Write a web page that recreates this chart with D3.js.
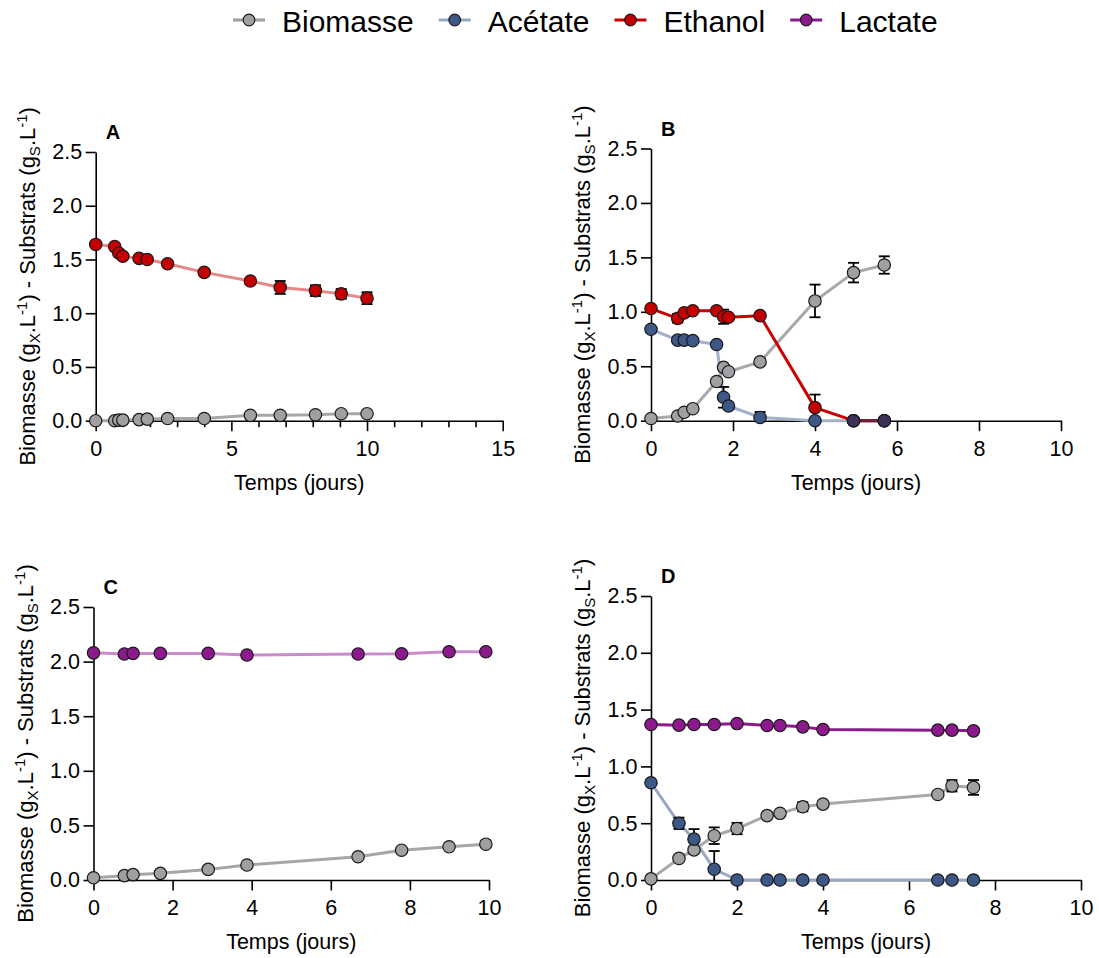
<!DOCTYPE html>
<html><head><meta charset="utf-8">
<script src="https://cdn.jsdelivr.net/npm/d3@7"></script>
<style>
body{margin:0;background:#fff}
svg{display:block}
text{font-family:"Liberation Sans",Arial,Helvetica,sans-serif;fill:#000}
</style>
</head><body>
<svg id="chart" width="1099" height="958"></svg>
<script>
// ---------------- DATA ----------------
const seriesNames = ["Biomasse", "Acétate", "Ethanol", "Lactate"];

// Panel A
const timeA = [0, 0.7, 0.85, 1.0, 1.6, 1.9, 2.65, 4.0, 5.7, 6.8, 8.1, 9.05, 10.0];
const biomasseA = [0.0, 0.0, 0.005, 0.005, 0.01, 0.015, 0.02, 0.02, 0.05, 0.05, 0.055, 0.065, 0.065];
const ethanolA = [1.64, 1.62, 1.56, 1.53, 1.51, 1.50, 1.46, 1.38, 1.30, 1.24, 1.21, 1.18, 1.14];
const ethanolA_sd = [0, 0, 0, 0, 0, 0, 0, 0, 0, 0.06, 0.05, 0.045, 0.055];

// Panel B
const timeB = [0, 0.65, 0.81, 1.02, 1.6, 1.77, 1.89, 2.66, 4.0, 4.94, 5.69];
const biomasseB = [0.02, 0.043, 0.077, 0.11, 0.36, 0.49, 0.45, 0.54, 1.10, 1.36, 1.43];
const biomasseB_sd = [0, 0, 0, 0, 0, 0, 0, 0, 0.15, 0.09, 0.08];
const acetateB = [0.84, 0.74, 0.74, 0.735, 0.70, 0.215, 0.135, 0.03, 0.0, 0.0, 0.0];
const acetateB_sd = [0, 0, 0, 0, 0, 0.095, 0, 0.05, 0, 0, 0];
const ethanolB = [1.03, 0.94, 0.99, 1.01, 1.01, 0.955, 0.95, 0.965, 0.12, 0.0, 0.0];
const ethanolB_sd = [0, 0.04, 0, 0, 0, 0.065, 0, 0, 0.12, 0, 0];
const timeB_lact = [4.94, 5.69];
const lactateB = [0.0, 0.0];

// Panel C
const timeC = [0, 0.78, 1.0, 1.69, 2.9, 3.88, 6.69, 7.79, 8.99, 9.92];
const biomasseC = [0.02, 0.04, 0.049, 0.061, 0.097, 0.137, 0.213, 0.273, 0.304, 0.328];
const lactateC = [2.08, 2.07, 2.075, 2.075, 2.075, 2.06, 2.07, 2.072, 2.09, 2.09];

// Panel D
const timeD = [0, 0.65, 1.0, 1.47, 2.0, 2.7, 3.0, 3.53, 4.0, 6.67, 7.0, 7.5];
const biomasseD = [0.01, 0.19, 0.265, 0.39, 0.453, 0.567, 0.587, 0.645, 0.668, 0.753, 0.829, 0.815];
const biomasseD_sd = [0, 0, 0, 0.073, 0.05, 0, 0, 0.04, 0, 0, 0.05, 0.065];
const acetateD = [0.856, 0.499, 0.36, 0.095, 0, 0, 0, 0, 0, 0, 0, 0];
const acetateD_sd = [0, 0.05, 0.088, 0.16, 0, 0, 0, 0, 0, 0, 0, 0];
const lactateD = [1.369, 1.363, 1.369, 1.369, 1.377, 1.36, 1.36, 1.348, 1.325, 1.319, 1.319, 1.313];

const yTicks = [0, 0.5, 1.0, 1.5, 2.0, 2.5];
const xTicksA = [0, 5, 10, 15];
const xTicksBCD = [0, 2, 4, 6, 8, 10];
const panelLetters = ["A", "B", "C", "D"];
const xTitle = "Temps (jours)";

// ---------------- STYLE ----------------
const fills = {"Biomasse": "#a0a0a2", "Acétate": "#3d5787", "Ethanol": "#c40000", "Lactate": "#8c1a8c"};
const legendLines = {"Biomasse": "#a3a3a5", "Acétate": "#97a8c2", "Ethanol": "#cc0000", "Lactate": "#8c1a8c"};
const FONT = 21.5;
const YFONT = 22;
const SUBFONT = 15;

function mk(times, vals, sds) {
  return times.map((t, i) => ({t: t, v: vals[i], sd: sds ? sds[i] : 0}));
}

const panels = [
  {letter: panelLetters[0], x0: 95.7, x1: 502.7, yb: 420.7, yt: 152, xmax: 15, xticks: xTicksA, minor: true,
   series: [
     {name: "Biomasse", data: mk(timeA, biomasseA), line: "#a6a6a8"},
     {name: "Ethanol", data: mk(timeA, ethanolA, ethanolA_sd), line: "#e68888"}
   ]},
  {letter: panelLetters[1], x0: 651, x1: 1061, yb: 420.7, yt: 148.5, xmax: 10, xticks: xTicksBCD, minor: false,
   series: [
     {name: "Biomasse", data: mk(timeB, biomasseB, biomasseB_sd), line: "#a8a8aa"},
     {name: "Acétate", data: mk(timeB, acetateB, acetateB_sd), line: "#a2b1c8"},
     {name: "Ethanol", data: mk(timeB, ethanolB, ethanolB_sd), line: "#cc0000"},
     {name: "Lactate", data: mk(timeB_lact, lactateB), line: "#6e1f3f", fill: "#3b3159"}
   ]},
  {letter: panelLetters[2], x0: 93.5, x1: 489, yb: 880, yt: 607, xmax: 10, xticks: xTicksBCD, minor: false,
   series: [
     {name: "Biomasse", data: mk(timeC, biomasseC), line: "#a6a6a8"},
     {name: "Lactate", data: mk(timeC, lactateC), line: "#c98bc9"}
   ]},
  {letter: panelLetters[3], x0: 651, x1: 1081, yb: 880, yt: 596, xmax: 10, xticks: xTicksBCD, minor: false,
   series: [
     {name: "Biomasse", data: mk(timeD, biomasseD, biomasseD_sd), line: "#a8a8aa"},
     {name: "Acétate", data: mk(timeD, acetateD, acetateD_sd), line: "#98a9c3"},
     {name: "Lactate", data: mk(timeD, lactateD), line: "#8c1a8c"}
   ]}
];

const svg = d3.select("#chart");

// ---------------- LEGEND ----------------
const leg = svg.append("g").attr("class", "legend");
let lx = 233;
seriesNames.forEach(name => {
  const g = leg.append("g");
  g.append("line").attr("x1", lx).attr("x2", lx + 32).attr("y1", 20).attr("y2", 20)
    .attr("stroke", legendLines[name]).attr("stroke-width", 3.2);
  g.append("circle").attr("cx", lx + 16).attr("cy", 20).attr("r", 5.8)
    .attr("fill", fills[name]).attr("stroke", "#1a1a1a").attr("stroke-width", 1.2);
  const t = g.append("text").attr("x", lx + 49).attr("y", 31.5).attr("font-size", 30).text(name);
  lx = lx + 49 + t.node().getComputedTextLength() + 25;
});

// ---------------- PANELS ----------------
panels.forEach(p => {
  const x = d3.scaleLinear().domain([0, p.xmax]).range([p.x0, p.x1]);
  const y = d3.scaleLinear().domain([0, 2.5]).range([p.yb, p.yt]);
  const g = svg.append("g").attr("class", "panel-" + p.letter);

  // minor ticks
  if (p.minor) {
    const minorVals = d3.range(0, p.xmax + 1).filter(v => !p.xticks.includes(v));
    g.append("g").attr("transform", `translate(0,${p.yb})`)
      .call(d3.axisBottom(x).tickValues(minorVals).tickSize(6.5).tickSizeOuter(0).tickFormat(""))
      .call(a => a.select(".domain").remove())
      .call(a => a.selectAll("line").attr("stroke", "#000").attr("stroke-width", 1.6));
  }

  // x axis
  g.append("g").attr("transform", `translate(0,${p.yb})`)
    .call(d3.axisBottom(x).tickValues(p.xticks).tickSize(10.5).tickSizeOuter(0).tickPadding(9.5).tickFormat(d3.format("d")))
    .call(a => a.select(".domain").attr("stroke", "#000").attr("stroke-width", 1.6))
    .call(a => a.selectAll("line").attr("stroke", "#000").attr("stroke-width", 1.6))
    .call(a => a.selectAll("text").attr("font-size", FONT).attr("fill", "#000")
      .attr("font-family", '"Liberation Sans",Arial,sans-serif'));

  // y axis
  g.append("g").attr("transform", `translate(${p.x0},0)`)
    .call(d3.axisLeft(y).tickValues(yTicks).tickSize(10).tickSizeOuter(0).tickPadding(3.5).tickFormat(d3.format(".1f")))
    .call(a => a.select(".domain").attr("stroke", "#000").attr("stroke-width", 1.6))
    .call(a => a.selectAll("line").attr("stroke", "#000").attr("stroke-width", 1.6))
    .call(a => a.selectAll("text").attr("font-size", FONT).attr("fill", "#000")
      .attr("font-family", '"Liberation Sans",Arial,sans-serif'));

  // x title
  g.append("text").attr("x", (p.x0 + p.x1) / 2).attr("y", p.yb + 69)
    .attr("text-anchor", "middle").attr("font-size", FONT).text(xTitle);

  // y title (rotated)
  const yl = g.append("text")
    .attr("transform", `translate(${p.x0 - 61},${(p.yb + p.yt) / 2}) rotate(-90)`)
    .attr("text-anchor", "middle").attr("font-size", YFONT);
  yl.append("tspan").text("Biomasse (g");
  yl.append("tspan").attr("font-size", SUBFONT).attr("dy", 5).text("X");
  yl.append("tspan").attr("dy", -5).text(".L");
  yl.append("tspan").attr("font-size", SUBFONT).attr("dy", -8).text("-1");
  yl.append("tspan").attr("dy", 8).text(") - Substrats (g");
  yl.append("tspan").attr("font-size", SUBFONT).attr("dy", 5).text("S");
  yl.append("tspan").attr("dy", -5).text(".L");
  yl.append("tspan").attr("font-size", SUBFONT).attr("dy", -8).text("-1");
  yl.append("tspan").attr("dy", 8).text(")");

  // panel letter
  g.append("text").attr("x", p.x0 + 10).attr("y", p.yt - 13)
    .attr("font-size", 20).attr("font-weight", "bold").text(p.letter);

  const line = d3.line().x(d => x(d.t)).y(d => y(d.v));

  // lines
  p.series.forEach(s => {
    g.append("path").datum(s.data).attr("d", line)
      .attr("fill", "none").attr("stroke", s.line).attr("stroke-width", 3)
      .attr("stroke-linejoin", "round");
  });

  // error bars
  p.series.forEach(s => {
    s.data.filter(d => d.sd > 0).forEach(d => {
      const cx = x(d.t);
      const lo = Math.max(0, d.v - d.sd), hi = d.v + d.sd;
      g.append("line").attr("x1", cx).attr("x2", cx).attr("y1", y(lo)).attr("y2", y(hi))
        .attr("stroke", "#000").attr("stroke-width", 1.8);
      g.append("line").attr("x1", cx - 5.5).attr("x2", cx + 5.5).attr("y1", y(hi)).attr("y2", y(hi))
        .attr("stroke", "#000").attr("stroke-width", 1.8);
      if (d.v - d.sd >= 0) {
        g.append("line").attr("x1", cx - 5.5).attr("x2", cx + 5.5).attr("y1", y(lo)).attr("y2", y(lo))
          .attr("stroke", "#000").attr("stroke-width", 1.8);
      }
    });
  });

  // markers
  p.series.forEach(s => {
    g.append("g").selectAll("circle").data(s.data).join("circle")
      .attr("cx", d => x(d.t)).attr("cy", d => y(d.v)).attr("r", 6.2)
      .attr("fill", s.fill || fills[s.name]).attr("stroke", "#1a1a1a").attr("stroke-width", 1.2);
  });
});
</script>
</body></html>
